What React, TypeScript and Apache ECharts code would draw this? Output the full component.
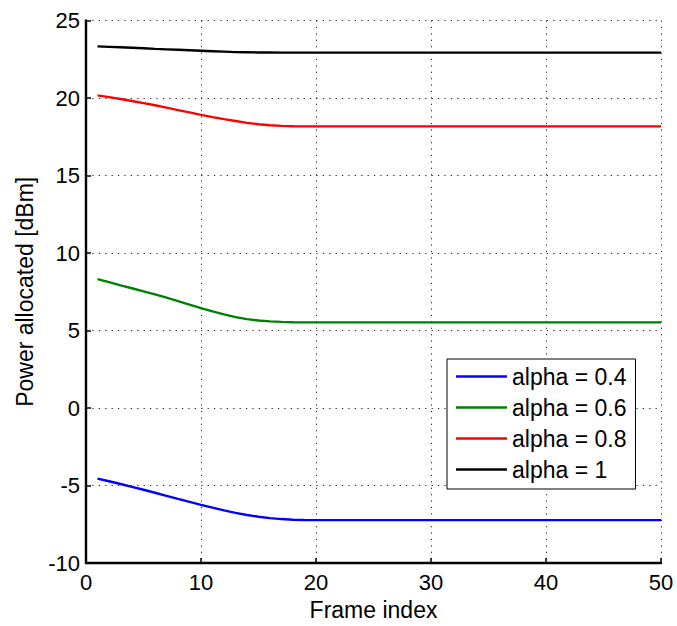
import React, { useEffect, useRef } from "react";
import * as echarts from "echarts";

const frames: number[] = Array.from({ length: 50 }, (_, i) => i + 1);

const alpha04: number[] = [
  -4.55, -4.72, -4.9, -5.08, -5.27, -5.46, -5.66, -5.86, -6.05, -6.24,
  -6.42, -6.6, -6.76, -6.9, -7.01, -7.1, -7.16, -7.2, -7.22, -7.23,
  -7.23, -7.23, -7.23, -7.23, -7.23, -7.23, -7.23, -7.23, -7.23, -7.23,
  -7.23, -7.23, -7.23, -7.23, -7.23, -7.23, -7.23, -7.23, -7.23, -7.23,
  -7.23, -7.23, -7.23, -7.23, -7.23, -7.23, -7.23, -7.23, -7.23, -7.23,
];

const alpha06: number[] = [
  8.32, 8.12, 7.92, 7.73, 7.53, 7.33, 7.12, 6.9, 6.67, 6.45,
  6.24, 6.04, 5.87, 5.74, 5.65, 5.59, 5.56, 5.54, 5.53, 5.53,
  5.53, 5.53, 5.53, 5.53, 5.53, 5.53, 5.53, 5.53, 5.53, 5.53,
  5.53, 5.53, 5.53, 5.53, 5.53, 5.53, 5.53, 5.53, 5.53, 5.53,
  5.53, 5.53, 5.53, 5.53, 5.53, 5.53, 5.53, 5.53, 5.53, 5.53,
];

const alpha08: number[] = [
  20.17, 20.06, 19.94, 19.81, 19.67, 19.53, 19.38, 19.22, 19.07, 18.91,
  18.77, 18.64, 18.52, 18.4, 18.31, 18.24, 18.2, 18.18, 18.17, 18.17,
  18.17, 18.17, 18.17, 18.17, 18.17, 18.17, 18.17, 18.17, 18.17, 18.17,
  18.17, 18.17, 18.17, 18.17, 18.17, 18.17, 18.17, 18.17, 18.17, 18.17,
  18.17, 18.17, 18.17, 18.17, 18.17, 18.17, 18.17, 18.17, 18.17, 18.17,
];

const alpha1: number[] = [
  23.33, 23.3, 23.27, 23.24, 23.21, 23.17, 23.14, 23.11, 23.08, 23.05,
  23.02, 22.99, 22.96, 22.95, 22.94, 22.94, 22.93, 22.93, 22.93, 22.93,
  22.93, 22.93, 22.93, 22.93, 22.93, 22.93, 22.93, 22.93, 22.93, 22.93,
  22.93, 22.93, 22.93, 22.93, 22.93, 22.93, 22.93, 22.93, 22.93, 22.93,
  22.93, 22.93, 22.93, 22.93, 22.93, 22.93, 22.93, 22.93, 22.93, 22.93,
];

const seriesNames: string[] = ["alpha = 0.4", "alpha = 0.6", "alpha = 0.8", "alpha = 1"];
const seriesColors: string[] = ["#0000ff", "#008000", "#ff0000", "#000000"];
const seriesValues: number[][] = [alpha04, alpha06, alpha08, alpha1];

const FONT = "'Liberation Sans', Arial, Helvetica, sans-serif";

export default function App() {
  const ref = useRef<HTMLDivElement>(null);

  useEffect(() => {
    if (!ref.current) return;
    const chart = echarts.init(ref.current, undefined, { renderer: "svg" });
    const gridLine = { show: true, lineStyle: { color: "#222", width: 1, type: [1.2, 5.2] as any } };
    chart.setOption({
      animation: false,
      backgroundColor: "#ffffff",
      textStyle: { fontFamily: FONT },
      grid: { left: 86, right: 16, top: 20.5, bottom: 59 },
      legend: {
        orient: "vertical",
        left: 447,
        top: 359,
        icon: "rect",
        itemWidth: 51,
        itemHeight: 2.5,
        itemGap: 8,
        padding: [6, 9, 8, 9],
        backgroundColor: "#ffffff",
        borderColor: "#000000",
        borderWidth: 1,
        borderRadius: 0,
        textStyle: { fontSize: 23, lineHeight: 23, color: "#000", fontFamily: FONT },
        data: seriesNames,
      },
      xAxis: {
        type: "value",
        min: 0,
        max: 50,
        interval: 10,
        name: "Frame index",
        nameLocation: "middle",
        nameGap: 30,
        nameTextStyle: { fontSize: 23, color: "#000", fontFamily: FONT },
        axisLine: { show: true, onZero: false, lineStyle: { color: "#000", width: 2.4 } },
        axisTick: { show: true, inside: true, length: 5, lineStyle: { color: "#000", width: 1.5 } },
        axisLabel: { fontSize: 22, color: "#000", margin: 8, fontFamily: FONT },
        splitLine: gridLine,
      },
      yAxis: {
        type: "value",
        min: -10,
        max: 25,
        interval: 5,
        name: "Power allocated [dBm]",
        nameLocation: "middle",
        nameGap: 50,
        nameTextStyle: { fontSize: 23, color: "#000", fontFamily: FONT },
        axisLine: { show: true, onZero: false, lineStyle: { color: "#000", width: 2.4 } },
        axisTick: { show: true, inside: true, length: 5, lineStyle: { color: "#000", width: 1.5 } },
        axisLabel: { fontSize: 22, color: "#000", margin: 6, fontFamily: FONT },
        splitLine: gridLine,
      },
      series: seriesNames.map((name, i) => ({
        name,
        type: "line",
        symbol: "none",
        showSymbol: false,
        color: seriesColors[i],
        lineStyle: { color: seriesColors[i], width: 2.4 },
        data: frames.map((f, j) => [f, seriesValues[i][j]]),
      })),
    });
    return () => chart.dispose();
  }, []);

  return (
    <div
      ref={ref}
      style={{ position: "fixed", left: 0, top: 0, width: 677, height: 626, background: "#fff" }}
    />
  );
}
